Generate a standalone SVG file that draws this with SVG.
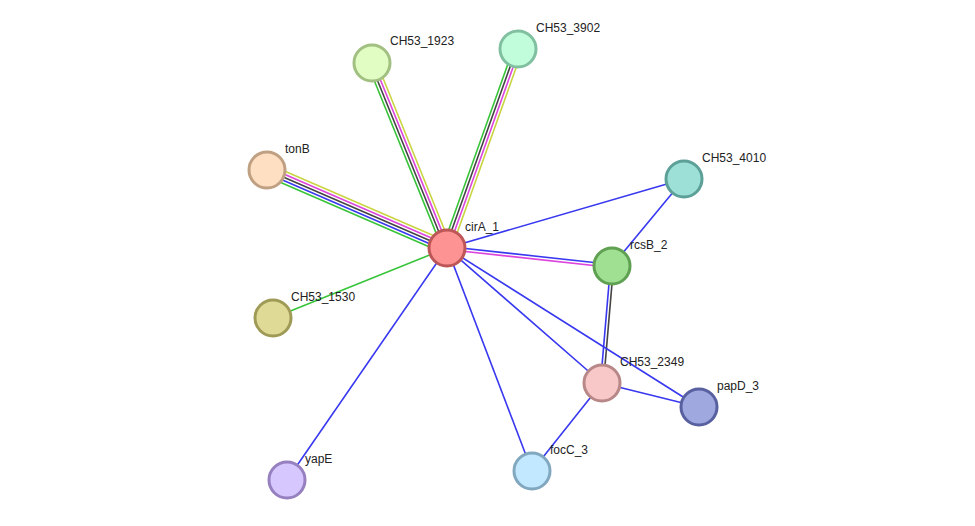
<svg xmlns="http://www.w3.org/2000/svg" width="975" height="526" viewBox="0 0 975 526">
<style>
.e{stroke-width:1.6;fill:none}
.b{stroke:#3838f0}.g{stroke:#38c438}.y{stroke:#c8d440}.m{stroke:#dd44dd}.k{stroke:#444}
.n{stroke-width:3}
text{font-family:"Liberation Sans",Arial,sans-serif;font-size:12px;fill:#222}
</style>
<rect width="975" height="526" fill="#fff"/>
<g id="edges">
<g transform="translate(267,170) rotate(23.43)">
<line class="e y" x1="0" y1="-6" x2="196.2" y2="-6"/>
<line class="e m" x1="0" y1="-3" x2="196.2" y2="-3"/>
<line class="e k" x1="0" y1="0" x2="196.2" y2="0"/>
<line class="e b" x1="0" y1="3" x2="196.2" y2="3"/>
<line class="e g" x1="0" y1="6" x2="196.2" y2="6"/>
</g>
<g transform="translate(372,63) rotate(67.93)">
<line class="e g" x1="0" y1="4.5" x2="199.6" y2="4.5"/>
<line class="e k" x1="0" y1="1.5" x2="199.6" y2="1.5"/>
<line class="e m" x1="0" y1="-1.5" x2="199.6" y2="-1.5"/>
<line class="e y" x1="0" y1="-4.5" x2="199.6" y2="-4.5"/>
</g>
<g transform="translate(518,49) rotate(109.64)">
<line class="e g" x1="0" y1="4.5" x2="211.3" y2="4.5"/>
<line class="e k" x1="0" y1="1.5" x2="211.3" y2="1.5"/>
<line class="e m" x1="0" y1="-1.5" x2="211.3" y2="-1.5"/>
<line class="e y" x1="0" y1="-4.5" x2="211.3" y2="-4.5"/>
</g>
<g transform="translate(447,248) rotate(6.23)">
<line class="e b" x1="0" y1="-1.5" x2="166" y2="-1.5"/>
<line class="e m" x1="0" y1="1.5" x2="166" y2="1.5"/>
</g>
<g transform="translate(612,266) rotate(94.88)">
<line class="e b" x1="0" y1="1.5" x2="117.4" y2="1.5"/>
<line class="e k" x1="0" y1="-1.5" x2="117.4" y2="-1.5"/>
</g>
<line class="e b" x1="447" y1="248" x2="684" y2="179"/>
<line class="e b" x1="684" y1="179" x2="612" y2="266"/>
<line class="e g" x1="447" y1="248" x2="273" y2="318"/>
<line class="e b" x1="447" y1="248" x2="287" y2="480"/>
<line class="e b" x1="447" y1="248" x2="532" y2="471"/>
<line class="e b" x1="447" y1="248" x2="602" y2="383"/>
<line class="e b" x1="447" y1="248" x2="699" y2="407"/>
<line class="e b" x1="602" y1="383" x2="699" y2="407"/>
<line class="e b" x1="602" y1="383" x2="532" y2="471"/>
</g>
<g id="cirA_1"><circle class="n" cx="447" cy="248" r="18" fill="#fd9393" stroke="#bd5656"/><text x="465" y="231">cirA_1</text></g>
<g id="CH53_1923"><circle class="n" cx="372" cy="63" r="18" fill="#e2fdc3" stroke="#a2c082"/><text x="390" y="45">CH53_1923</text></g>
<g id="CH53_3902"><circle class="n" cx="518" cy="49" r="18" fill="#c2fddb" stroke="#80c0a0"/><text x="536" y="32">CH53_3902</text></g>
<g id="tonB"><circle class="n" cx="267" cy="170" r="18" fill="#ffdfc2" stroke="#c0a082"/><text x="285" y="153">tonB</text></g>
<g id="CH53_4010"><circle class="n" cx="684" cy="179" r="18" fill="#9de0d8" stroke="#5da098"/><text x="702" y="162">CH53_4010</text></g>
<g id="rcsB_2"><circle class="n" cx="612" cy="266" r="18" fill="#a0e093" stroke="#60a053"/><text x="630" y="249">rcsB_2</text></g>
<g id="CH53_1530"><circle class="n" cx="273" cy="318" r="18" fill="#dfdb97" stroke="#9f9b57"/><text x="291" y="301">CH53_1530</text></g>
<g id="CH53_2349"><circle class="n" cx="602" cy="383" r="18" fill="#f8c8c8" stroke="#b88888"/><text x="620" y="366">CH53_2349</text></g>
<g id="papD_3"><circle class="n" cx="699" cy="407" r="18" fill="#a0a8e0" stroke="#5860a0"/><text x="717" y="390">papD_3</text></g>
<g id="yapE"><circle class="n" cx="287" cy="480" r="18" fill="#d6c7ff" stroke="#9680c0"/><text x="305" y="463">yapE</text></g>
<g id="focC_3"><circle class="n" cx="532" cy="471" r="18" fill="#c2e8ff" stroke="#82a8c0"/><text x="550" y="454">focC_3</text></g>
</svg>
